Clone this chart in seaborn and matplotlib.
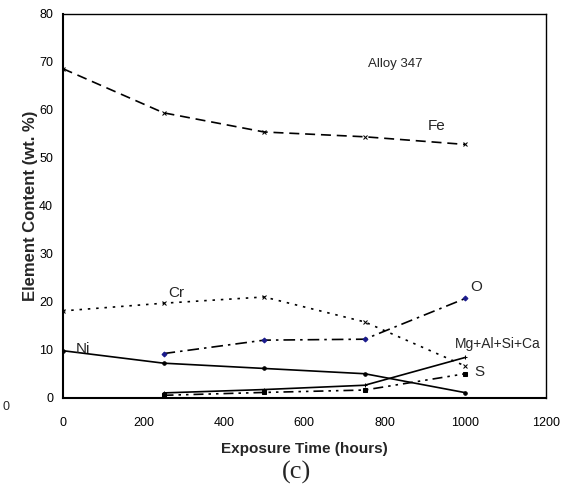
import pandas as pd
import matplotlib
matplotlib.use("Agg")
import matplotlib.pyplot as plt
import seaborn as sns

# values
hours_all = [0, 250, 500, 750, 1000]
hours_late = [250, 500, 750, 1000]
fe = [68.6, 59.4, 55.4, 54.4, 52.8]
cr = [18.1, 19.7, 21.0, 15.8, 6.6]
ni = [9.8, 7.2, 6.1, 5.0, 1.05]
o = [9.2, 12.0, 12.2, 20.7]
mg_al_si_ca = [1.0, 1.7, 2.6, 8.4]
s = [0.5, 1.1, 1.6, 5.0]

x_ticks = [0, 200, 400, 600, 800, 1000, 1200]
y_ticks = [0, 10, 20, 30, 40, 50, 60, 70, 80]

sns.set_style("white")
plt.rcParams['font.family'] = ['Liberation Sans', 'DejaVu Sans']

fig = plt.figure(figsize=(5.77, 4.91), dpi=100)
ax = fig.add_axes([0.109, 0.19, 0.837, 0.7815])

series = [
    ("Fe", hours_all, fe, (0, (6, 3.5)), "x", "black", 3),
    ("Cr", hours_all, cr, (0, (1.5, 3.5)), "x", "black", 3),
    ("Ni", hours_all, ni, "-", "o", "black", 2.5),
    ("O", hours_late, o, (0, (7, 3, 1.5, 3)), "D", "#1a1a8c", 2.5),
    ("Mg+Al+Si+Ca", hours_late, mg_al_si_ca, "-", "+", "black", 3),
    ("S", hours_late, s, (0, (6, 3, 1.5, 3, 1.5, 3)), "s", "black", 2.5),
]

for name, xs, ys, ls, mk, mc, ms in series:
    df = pd.DataFrame({"hours": xs, "content": ys})
    sns.lineplot(data=df, x="hours", y="content", ax=ax, color="black",
                 linestyle=ls, linewidth=1.2, marker=mk, markersize=ms,
                 markerfacecolor=mc, markeredgecolor=mc, legend=False)

ax.set_xlim(0, 1200)
ax.set_ylim(0, 80)
ax.set_xticks(x_ticks)
ax.set_yticks(y_ticks)
ax.tick_params(axis="both", direction="out", length=4, width=1,
               labelsize=9, colors="black", pad=3)
ax.tick_params(axis="x", pad=10)
for side in ax.spines.values():
    side.set_color("black")
    side.set_linewidth(1)
ax.spines["bottom"].set_linewidth(1.5)
ax.spines["left"].set_linewidth(1.5)

ax.set_xlabel("Exposure Time (hours)", fontsize=11, fontweight="bold", labelpad=9)
ax.set_ylabel("Element Content (wt. %)", fontsize=12, fontweight="bold", labelpad=1)

# labels placed next to the curves
ax.text(827, 69.6, "Alloy 347", fontsize=9.5, ha="center", va="center")
ax.text(929, 56.6, "Fe", fontsize=11, ha="center", va="center")
ax.text(262, 21.8, "Cr", fontsize=11, ha="left", va="center")
ax.text(32, 10.2, "Ni", fontsize=11, ha="left", va="center")
ax.text(1028, 23.0, "O", fontsize=11, ha="center", va="center")
ax.text(1080, 11.2, "Mg+Al+Si+Ca", fontsize=10, ha="center", va="center")
ax.text(1035, 5.3, "S", fontsize=11, ha="center", va="center")

fig.text(0.004, 0.171, "0", fontsize=9, ha="left", va="center")
fig.text(0.514, 0.038, "(c)", fontsize=19, ha="center", va="center",
         family=["Liberation Serif", "DejaVu Serif"])

fig.savefig("out.png", dpi=100)
